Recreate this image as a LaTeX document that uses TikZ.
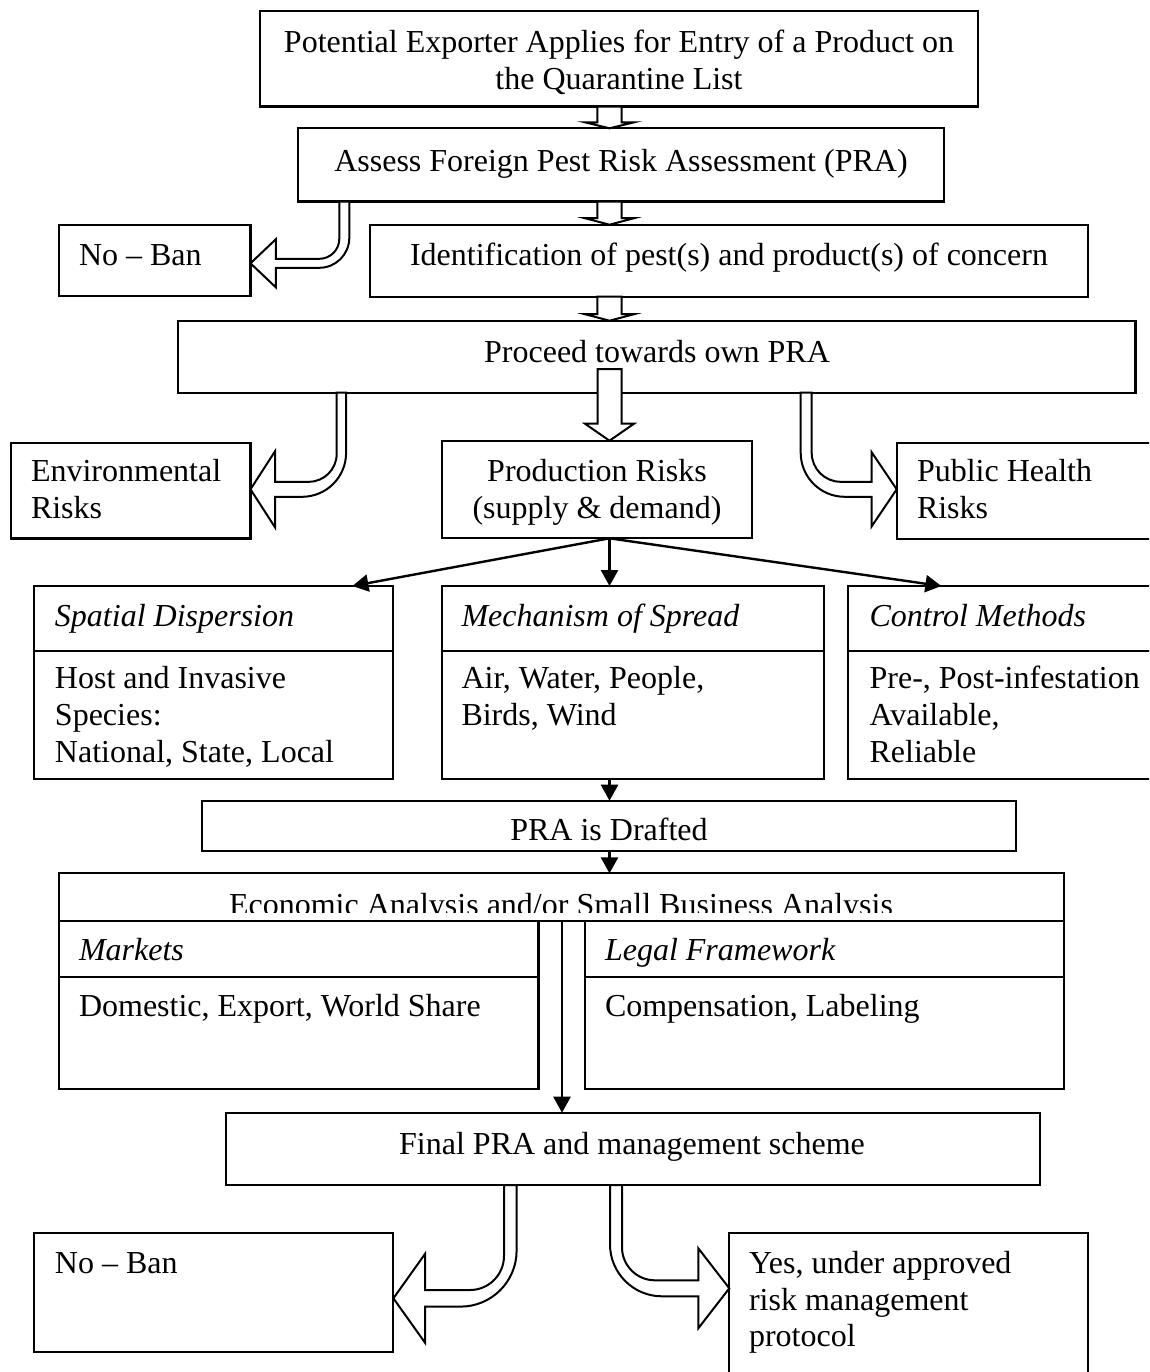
\documentclass[tikz,border=0pt]{standalone}
\usepackage{fontspec}
\setmainfont{Liberation Serif}
\usetikzlibrary{calc,fit,arrows.meta}
% straight hollow block arrow: #1 start, #2 tip, #3 shaft half width, #4 head half width, #5 head length
\newcommand\hollowdown[5]{%
  \draw[hollow] ($(#1)+(-#3,0)$) -- ($(#2)+(-#3,-#5)$) -- ($(#2)+(-#4,-#5)$) -- (#2)
    -- ($(#2)+(#4,-#5)$) -- ($(#2)+(#3,-#5)$) -- ($(#1)+(#3,0)$) -- cycle;}
% curved hollow arrow turning left: #1 start (named coordinate), #2 tip (named coordinate),
% #3 vertical half width, #4 horizontal half width, #5 head half height, #6 head length,
% #7 inner radius, #8 outer radius
\newcommand\curvearrowL[8]{%
  \draw[hollow] ($(#1)+(-#3,0)$) -- ($(#1 |- #2)+(-#3,-#4-#7)$)
    .. controls ($(#1 |- #2)+(-#3,-#4-0.448*#7)$) and ($(#1 |- #2)+(-#3-0.448*#7,-#4)$)
    .. ($(#1 |- #2)+(-#3-#7,-#4)$)
    -- ($(#2)+(#6,-#4)$) -- ($(#2)+(#6,-#5)$) -- (#2) -- ($(#2)+(#6,#5)$) -- ($(#2)+(#6,#4)$)
    -- ($(#1 |- #2)+(#3-#8,#4)$)
    .. controls ($(#1 |- #2)+(#3-0.448*#8,#4)$) and ($(#1 |- #2)+(#3,#4-0.448*#8)$)
    .. ($(#1 |- #2)+(#3,#4-#8)$)
    -- ($(#1)+(#3,0)$) -- cycle;}
\newcommand\curvearrowR[8]{%
  \draw[hollow] ($(#1)+(#3,0)$) -- ($(#1 |- #2)+(#3,-#4-#7)$)
    .. controls ($(#1 |- #2)+(#3,-#4-0.448*#7)$) and ($(#1 |- #2)+(#3+0.448*#7,-#4)$)
    .. ($(#1 |- #2)+(#3+#7,-#4)$)
    -- ($(#2)+(-#6,-#4)$) -- ($(#2)+(-#6,-#5)$) -- (#2) -- ($(#2)+(-#6,#5)$) -- ($(#2)+(-#6,#4)$)
    -- ($(#1 |- #2)+(-#3+#8,#4)$)
    .. controls ($(#1 |- #2)+(-#3+0.448*#8,#4)$) and ($(#1 |- #2)+(-#3,#4-0.448*#8)$)
    .. ($(#1 |- #2)+(-#3,#4-#8)$)
    -- ($(#1)+(-#3,0)$) -- cycle;}
\begin{document}
\begin{tikzpicture}[x=0.375pt,y=-0.375pt,
  box/.style={draw, line width=0.8pt, inner sep=0pt, outer sep=0pt, fill=white},
  txt/.style={inner sep=0pt, outer sep=0pt, font=\fontsize{12}{13.875}\selectfont},
  ctxt/.style={txt, anchor=base},
  ltxt/.style={txt, anchor=base west},
  itxt/.style={inner sep=0pt, outer sep=0pt, anchor=base west, font=\fontsize{12}{13.875}\selectfont\itshape},
  hollow/.style={draw, line width=0.75pt, fill=white, line join=miter},
  thinarrow/.style={draw, line width=0.9pt, -{Triangle[length=6pt,width=6.4pt]}},
]
\useasboundingbox (0,0) rectangle (1149,1372);
\fill[white] (0,0) rectangle (1149,1372);
\clip (0,0) rectangle (1149,1372);

% ---------- boxes ----------
\node[box, fit={(260,11) (978,106.5)}] (b1) {};
\node[box, fit={(298,128.3) (944,201.5)}] (b2) {};
\node[box, fit={(370,224.7) (1088,296.7)}] (b3) {};
\node[box, fit={(58.6,224.7) (250.5,296)}] (nb1) {};
\node[box, fit={(178,320.7) (1135.5,392.7)}] (b4) {};
\node[box, fit={(11,442.7) (250.5,538.5)}] (env) {};
\node[box, fit={(441.8,440.7) (752.4,538.3)}] (prod) {};
\node[box, fit={(896.7,443.3) (1165,538.7)}] (ph) {};
\node[box, fit={(34.4,586) (393.4,650.7)}] (sp1) {};
\node[box, fit={(34.4,650.7) (393.4,779)}] (sp2) {};
\node[box, fit={(441.8,586) (824.2,650.7)}] (me1) {};
\node[box, fit={(441.8,650.7) (824.2,779)}] (me2) {};
\node[box, fit={(848.4,586) (1165,650.7)}] (cm1) {};
\node[box, fit={(848.4,650.7) (1165,779)}] (cm2) {};
\node[box, fit={(202.2,800.7) (1016,850.7)}] (dr) {};
\node[box, fit={(58.6,873.3) (1063.7,920.7)}] (ec) {};
\node[box, fit={(58.6,920.7) (538.5,976.7)}] (mk1) {};
\node[box, fit={(58.6,976.7) (538.5,1088.7)}] (mk2) {};
\node[box, fit={(585.3,920.7) (1063.7,976.7)}] (lg1) {};
\node[box, fit={(585.3,976.7) (1063.7,1088.7)}] (lg2) {};
\node[box, fit={(225.6,1112.7) (1040.3,1185)}] (fin) {};
\node[box, fit={(34.4,1232.7) (393.4,1351.7)}] (nb2) {};
\node[box, fit={(729.3,1232.7) (1088,1395)}] (yes) {};

% ---------- helper coordinates ----------
\coordinate (ax) at (609.5,0);
\coordinate (xA) at (344.3,0);  \coordinate (yA) at (0,263.3);
\coordinate (xB) at (341.4,0);  \coordinate (yB) at (0,489.3);
\coordinate (xC) at (806.2,0);  \coordinate (yC) at (0,489.3);
\coordinate (xD) at (510.3,0);  \coordinate (yD) at (0,1298.3);
\coordinate (xE) at (616,0);    \coordinate (yE) at (0,1288.3);
\coordinate (xG) at (562,0);
\coordinate (sA) at (b2.south -| xA);   \coordinate (tA) at (nb1.east |- yA);
\coordinate (sB) at (b4.south -| xB);   \coordinate (tB) at (env.east |- yB);
\coordinate (sC) at (b4.south -| xC);   \coordinate (tC) at (ph.west |- yC);
\coordinate (sD) at (fin.south -| xD);  \coordinate (tD) at (nb2.east |- yD);
\coordinate (sE) at (fin.south -| xE);  \coordinate (tE) at (yes.west |- yE);
\coordinate (s1) at (b1.south -| ax);   \coordinate (e1) at (b2.north -| ax);
\coordinate (s2) at (b2.south -| ax);   \coordinate (e2) at (b3.north -| ax);
\coordinate (s3) at (b3.south -| ax);   \coordinate (e3) at (b4.north -| ax);
\coordinate (s4) at ($(b4.south -| ax)+(0,-23.7)$); \coordinate (e4) at (prod.north -| ax);
\coordinate (pbot) at (prod.south -| ax);

% ---------- thin arrows ----------
\draw[thinarrow] (pbot) -- ($(sp1.north east)+(-41,0)$);
\draw[thinarrow] (pbot) -- (me1.north -| ax);
\draw[thinarrow] (pbot) -- ($(cm1.north west)+(93,0)$);
\draw[thinarrow] (me2.south -| ax) -- (dr.north -| ax);
\draw[thinarrow] (dr.south -| ax) -- (ec.north -| ax);
\draw[thinarrow] (ec.south -| xG) -- (fin.north -| xG);

% ---------- hollow arrows ----------
\hollowdown{s1}{e1}{12.2}{24.5}{6}
\hollowdown{s2}{e2}{12.2}{24.5}{6.5}
\hollowdown{s3}{e3}{12.2}{24.5}{6.5}
\hollowdown{s4}{e4}{12}{24.5}{17}
\curvearrowL{sA}{tA}{5}{4.5}{24}{25.3}{20}{30}
\curvearrowL{sB}{tB}{4.7}{7.5}{38}{24.5}{28}{44}
\curvearrowR{sC}{tC}{5.5}{7.5}{37}{25}{29}{44}
\curvearrowL{sD}{tD}{6.3}{8.3}{44.5}{31.7}{34}{56}
\curvearrowR{sE}{tE}{6}{8}{40}{31}{33}{52}

% ---------- texts ----------
\node[ctxt] (t1a) at (619,52) {Potential Exporter Applies for Entry of a Product on};
\node[ctxt] (t1b) at (619,89) {the Quarantine List};
\node[ctxt] (t2) at (621,171) {Assess Foreign Pest Risk Assessment (PRA)};
\node[ctxt] (t3) at (729,265) {Identification of pest(s) and product(s) of concern};
\node[ltxt] (tnb1) at (79,265) {No – Ban};
\node[ctxt] (t4) at (657,362.5) {Proceed towards own PRA};
\node[ltxt] (tenva) at (31,481.7) {Environmental};
\node[ltxt] (tenvb) at (31,518.3) {Risks};
\node[ctxt] (tpra) at (597,481.7) {Production Risks};
\node[ctxt] (tprb) at (597,518.3) {(supply \& demand)};
\node[ltxt] (tpha) at (917,481.7) {Public Health};
\node[ltxt] (tphb) at (917,518.3) {Risks};
\node[itxt] (tsp) at (55,626.7) {Spatial Dispersion};
\node[ltxt] (tspa) at (55,688.3) {Host and Invasive};
\node[ltxt] (tspb) at (55,725.7) {Species:};
\node[ltxt] (tspc) at (55,762.7) {National, State, Local};
\node[itxt] (tme) at (461.5,626.7) {Mechanism of Spread};
\node[ltxt] (tmea) at (461.5,688.3) {Air, Water, People,};
\node[ltxt] (tmeb) at (461.5,725.7) {Birds, Wind};
\node[itxt] (tcm) at (869.6,626.7) {Control Methods};
\node[ltxt] (tcma) at (869.6,688.3) {Pre-, Post-infestation};
\node[ltxt] (tcmb) at (869.6,725.7) {Available,};
\node[ltxt] (tcmc) at (869.6,762.7) {Reliable};
\node[ctxt] (tdr) at (609,840) {PRA is Drafted};
\begin{scope}
  \clip (ec.north west) rectangle ($(ec.south east)+(0,-8.7)$);
  \node[ctxt] (tec) at (561,915.5) {Economic Analysis and/or Small Business Analysis};
\end{scope}
\node[itxt] (tmk) at (79,960) {Markets};
\node[ltxt] (tmkb) at (79,1016.7) {Domestic, Export, World Share};
\node[itxt] (tlg) at (605,960) {Legal Framework};
\node[ltxt] (tlgb) at (605,1016.7) {Compensation, Labeling};
\node[ctxt] (tfin) at (632,1154.3) {Final PRA and management scheme};
\node[ltxt] (tnb2) at (55,1273.3) {No – Ban};
\node[ltxt] (tyesa) at (749,1273.3) {Yes, under approved};
\node[ltxt] (tyesb) at (749,1310) {risk management};
\node[ltxt] (tyesc) at (749,1346.7) {protocol};
\end{tikzpicture}
\end{document}
